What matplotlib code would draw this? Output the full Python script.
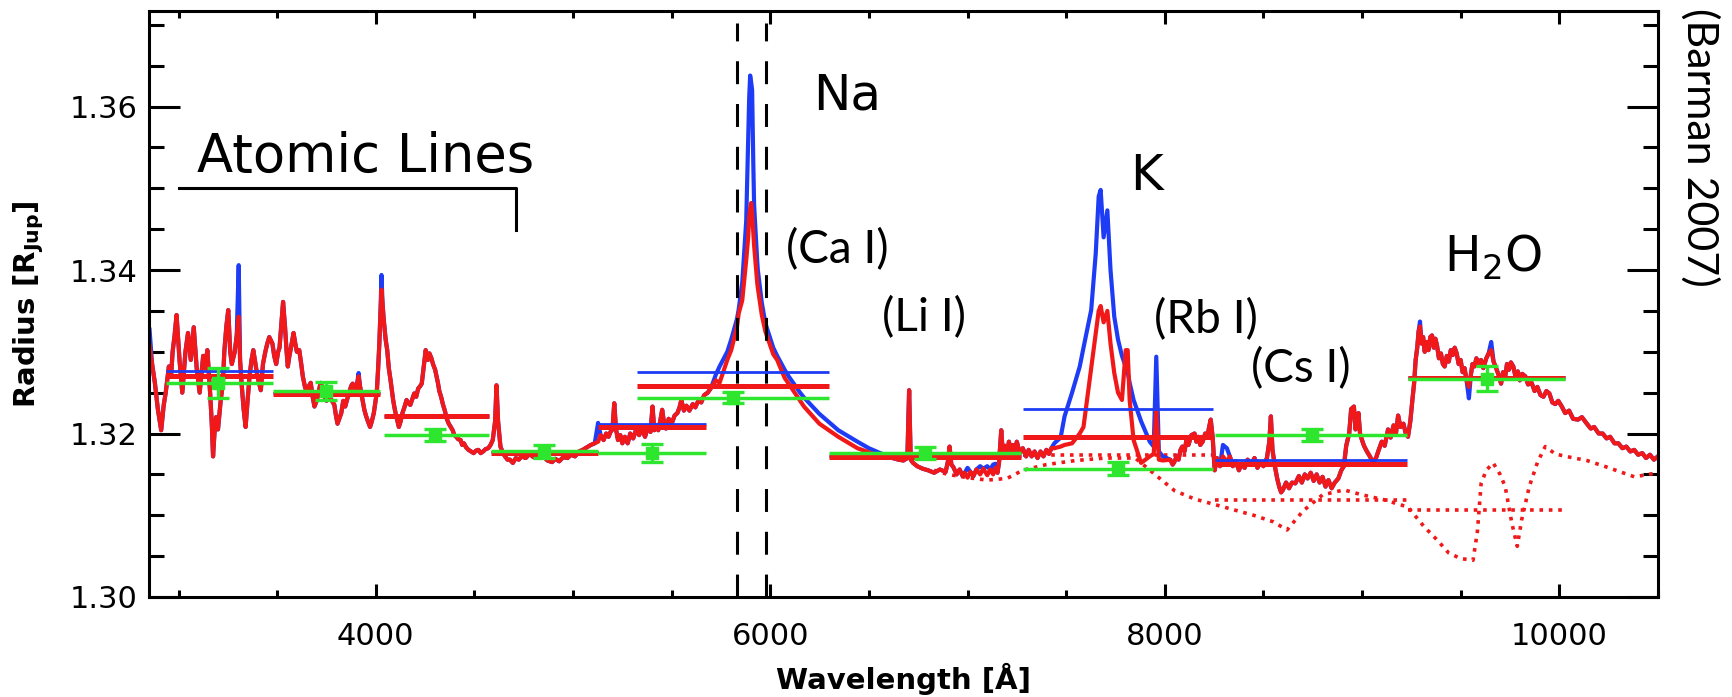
import matplotlib.pyplot as plt
from matplotlib.ticker import MultipleLocator

# -------------------- spectrum shared by both models (outside Na and K) --------------------
# blue / near-UV part, 2850-4620 A
uv_wl = [2853, 2866, 2880, 2895, 2912, 2925, 2935, 2951, 2962, 2970, 2980, 2990, 3005, 3019,
         3035, 3048, 3062, 3077, 3092, 3107, 3125, 3135, 3146, 3160, 3168, 3175, 3182, 3190,
         3200, 3214, 3225, 3232, 3242, 3252, 3262, 3270, 3285, 3295, 3305, 3312, 3320, 3330,
         3340, 3350, 3360, 3370, 3379, 3390, 3400, 3410, 3417, 3428, 3440, 3450, 3460, 3476,
         3485, 3495, 3505, 3512, 3520, 3530, 3540, 3548, 3554, 3562, 3570, 3583, 3592, 3600,
         3612, 3622, 3630, 3640, 3650, 3660, 3670, 3680, 3689, 3700, 3710, 3720, 3728, 3740,
         3750, 3758, 3767, 3778, 3790, 3798, 3806, 3815, 3825, 3835, 3845, 3855, 3865, 3875,
         3883, 3892, 3900, 3906, 3913, 3920, 3930, 3942, 3950, 3960, 3971, 3980, 3990, 4005,
         4012, 4018, 4024, 4029, 4034, 4040, 4050, 4058, 4066, 4075, 4088, 4096, 4105, 4117,
         4126, 4135, 4145, 4156, 4165, 4175, 4185, 4195, 4205, 4215, 4225, 4233, 4240, 4245,
         4253, 4260, 4265, 4272, 4282, 4290, 4301, 4308, 4315, 4322, 4331, 4340, 4350, 4360,
         4370, 4380, 4390, 4398, 4408, 4418, 4430, 4438, 4447, 4458, 4470, 4483, 4496, 4508,
         4520, 4532, 4544, 4557, 4570, 4582, 4593, 4605, 4612, 4620]
uv_r = [1.3308, 1.3285, 1.3262, 1.3230, 1.3204, 1.3235, 1.3250, 1.3282, 1.3270, 1.3300, 1.3320,
        1.3345, 1.3290, 1.3250, 1.3300, 1.3323, 1.3290, 1.3330, 1.3280, 1.3250, 1.3295, 1.3280,
        1.3302, 1.3250, 1.3215, 1.3172, 1.3200, 1.3220, 1.3205, 1.3241, 1.3262, 1.3300, 1.3330,
        1.3351, 1.3300, 1.3285, 1.3300, 1.3320, 1.3343, 1.3290, 1.3260, 1.3230, 1.3208, 1.3240,
        1.3270, 1.3290, 1.3302, 1.3285, 1.3270, 1.3260, 1.3253, 1.3285, 1.3300, 1.3310, 1.3318,
        1.3310, 1.3295, 1.3285, 1.3300, 1.3305, 1.3330, 1.3361, 1.3330, 1.3300, 1.3282, 1.3295,
        1.3305, 1.3323, 1.3310, 1.3300, 1.3302, 1.3285, 1.3270, 1.3258, 1.3250, 1.3258, 1.3262,
        1.3245, 1.3233, 1.3240, 1.3250, 1.3262, 1.3257, 1.3245, 1.3240, 1.3250, 1.3245, 1.3240,
        1.3235, 1.3222, 1.3212, 1.3218, 1.3225, 1.3240, 1.3233, 1.3242, 1.3250, 1.3258, 1.3261,
        1.3255, 1.3250, 1.3262, 1.3270, 1.3258, 1.3245, 1.3229, 1.3222, 1.3215, 1.3208, 1.3215,
        1.3225, 1.3250, 1.3280, 1.3310, 1.3350, 1.3376, 1.3360, 1.3340, 1.3315, 1.3302, 1.3280,
        1.3265, 1.3241, 1.3230, 1.3220, 1.3208, 1.3215, 1.3225, 1.3232, 1.3241, 1.3237, 1.3235,
        1.3242, 1.3249, 1.3245, 1.3255, 1.3258, 1.3261, 1.3275, 1.3285, 1.3302, 1.3295, 1.3290,
        1.3298, 1.3292, 1.3285, 1.3278, 1.3270, 1.3262, 1.3252, 1.3245, 1.3236, 1.3228, 1.3218,
        1.3212, 1.3208, 1.3204, 1.3198, 1.3196, 1.3193, 1.3192, 1.3186, 1.3188, 1.3183, 1.3180,
        1.3178, 1.3176, 1.3179, 1.3180, 1.3176, 1.3178, 1.3181, 1.3182, 1.3186, 1.3192, 1.3215,
        1.3259, 1.3215]

# visible, 4630-5700 A
vis_wl = [4632, 4645, 4655, 4668, 4680, 4695, 4710, 4725, 4739, 4760, 4780, 4800, 4816, 4835,
          4850, 4870, 4894, 4910, 4930, 4950, 4972, 4990, 5010, 5030, 5049, 5070, 5090, 5110,
          5127, 5140, 5155, 5168, 5180, 5190, 5200, 5209, 5218, 5228, 5240, 5250, 5263, 5277,
          5290, 5305, 5320, 5335, 5350, 5365, 5380, 5393, 5403, 5412, 5422, 5432, 5442, 5452,
          5462, 5471, 5485, 5500, 5515, 5529, 5540, 5549, 5562, 5575, 5590, 5607, 5620, 5635,
          5650, 5665, 5683, 5700]
vis_r = [1.3184, 1.3176, 1.3172, 1.3168, 1.3168, 1.3164, 1.3170, 1.3168, 1.3172, 1.3170, 1.3175,
         1.3171, 1.3174, 1.3170, 1.3172, 1.3167, 1.3165, 1.3169, 1.3166, 1.3171, 1.3170, 1.3174,
         1.3172, 1.3178, 1.3180, 1.3183, 1.3186, 1.3188, 1.3190, 1.3198, 1.3192, 1.3200, 1.3196,
         1.3202, 1.3205, 1.3237, 1.3205, 1.3192, 1.3198, 1.3188, 1.3196, 1.3188, 1.3200, 1.3194,
         1.3205, 1.3198, 1.3206, 1.3196, 1.3208, 1.3202, 1.3233, 1.3204, 1.3210, 1.3204, 1.3215,
         1.3229, 1.3212, 1.3206, 1.3218, 1.3212, 1.3222, 1.3225, 1.3232, 1.3241, 1.3228, 1.3234,
         1.3228, 1.3236, 1.3232, 1.3240, 1.3238, 1.3247, 1.3250, 1.3256]

# red, 6620-7425 A
red_seg_wl = [6620, 6650, 6675, 6695, 6704, 6712, 6724, 6745, 6772, 6800, 6831, 6860, 6889,
              6900, 6909, 6918, 6928, 6945, 6960, 6975, 6986, 7000, 7015, 7030, 7045, 7064,
              7080, 7100, 7115, 7130, 7142, 7152, 7160, 7171, 7180, 7190, 7200, 7210, 7220,
              7230, 7239, 7250, 7265, 7280, 7297, 7310, 7325, 7340, 7355, 7370, 7385, 7400,
              7413, 7425]
red_seg_r = [1.3170, 1.3168, 1.3167, 1.3170, 1.3253, 1.3168, 1.3164, 1.3160, 1.3157, 1.3155,
             1.3152, 1.3156, 1.3153, 1.3165, 1.3184, 1.3162, 1.3159, 1.3150, 1.3156, 1.3148,
             1.3152, 1.3146, 1.3153, 1.3148, 1.3156, 1.3150, 1.3157, 1.3149, 1.3156, 1.3150,
             1.3158, 1.3152, 1.3165, 1.3204, 1.3172, 1.3185, 1.3175, 1.3190, 1.3178, 1.3186,
             1.3178, 1.3190, 1.3176, 1.3182, 1.3172, 1.3180, 1.3172, 1.3178, 1.3170, 1.3178,
             1.3172, 1.3180, 1.3175, 1.3182]

# near-IR, 8028-9233 A
nir_wl = [8028, 8040, 8048, 8060, 8070, 8080, 8089, 8100, 8110, 8120, 8135, 8151, 8160, 8170,
          8180, 8192, 8205, 8215, 8225, 8233, 8243, 8253, 8265, 8280, 8295, 8315, 8330, 8345,
          8360, 8376, 8390, 8405, 8420, 8437, 8455, 8470, 8485, 8500, 8518, 8530, 8538, 8546,
          8559, 8570, 8580, 8590, 8599, 8615, 8630, 8645, 8662, 8680, 8695, 8710, 8724, 8740,
          8755, 8770, 8785, 8800, 8815, 8830, 8846, 8862, 8880, 8895, 8908, 8920, 8935, 8945,
          8959, 8967, 8975, 8982, 8990, 9000, 9010, 9025, 9040, 9055, 9071, 9085, 9100, 9115,
          9132, 9145, 9160, 9172, 9183, 9195, 9210, 9222, 9233]
nir_r = [1.3168, 1.3162, 1.3165, 1.3172, 1.3168, 1.3180, 1.3184, 1.3178, 1.3192, 1.3186, 1.3198,
         1.3200, 1.3190, 1.3196, 1.3186, 1.3190, 1.3200, 1.3195, 1.3208, 1.3217, 1.3195, 1.3155,
         1.3170, 1.3160, 1.3172, 1.3165, 1.3172, 1.3160, 1.3166, 1.3155, 1.3163, 1.3158, 1.3168,
         1.3162, 1.3170, 1.3158, 1.3165, 1.3160, 1.3170, 1.3190, 1.3221, 1.3180, 1.3159, 1.3145,
         1.3135, 1.3128, 1.3131, 1.3140, 1.3133, 1.3140, 1.3139, 1.3148, 1.3140, 1.3150, 1.3145,
         1.3152, 1.3142, 1.3150, 1.3140, 1.3147, 1.3135, 1.3143, 1.3133, 1.3140, 1.3145, 1.3155,
         1.3160, 1.3185, 1.3200, 1.3230, 1.3233, 1.3205, 1.3215, 1.3225, 1.3200, 1.3192, 1.3185,
         1.3178, 1.3172, 1.3165, 1.3170, 1.3180, 1.3190, 1.3185, 1.3205, 1.3195, 1.3210, 1.3200,
         1.3222, 1.3208, 1.3212, 1.3200, 1.3196]

# water band, 9245-10500 A
h2o_wl = [9245, 9255, 9264, 9272, 9280, 9287, 9294, 9302, 9310, 9318, 9326, 9337, 9346, 9355,
          9364, 9372, 9380, 9390, 9400, 9410, 9419, 9430, 9440, 9450, 9460, 9470, 9480, 9490,
          9500, 9510, 9520, 9530, 9542, 9552, 9560, 9570, 9580, 9590, 9603, 9615, 9630, 9642,
          9655, 9667, 9680, 9692, 9705, 9715, 9725, 9735, 9745, 9755, 9767, 9778, 9790, 9800,
          9812, 9828, 9842, 9860, 9875, 9889, 9905, 9920, 9935, 9950, 9965, 9980, 9995, 10013,
          10030, 10050, 10070, 10095, 10115, 10140, 10160, 10177, 10200, 10220, 10240, 10258,
          10280, 10300, 10320, 10340, 10360, 10380, 10400, 10421, 10440, 10460, 10480, 10500]
h2o_r = [1.3215, 1.3240, 1.3261, 1.3290, 1.3305, 1.3325, 1.3331, 1.3310, 1.3318, 1.3300, 1.3312,
         1.3302, 1.3318, 1.3320, 1.3305, 1.3316, 1.3308, 1.3292, 1.3298, 1.3285, 1.3282, 1.3295,
         1.3288, 1.3302, 1.3296, 1.3305, 1.3298, 1.3285, 1.3290, 1.3275, 1.3280, 1.3265, 1.3257,
         1.3272, 1.3285, 1.3282, 1.3292, 1.3285, 1.3290, 1.3280, 1.3292, 1.3298, 1.3302, 1.3288,
         1.3280, 1.3272, 1.3261, 1.3275, 1.3268, 1.3285, 1.3278, 1.3287, 1.3282, 1.3270, 1.3276,
         1.3265, 1.3273, 1.3270, 1.3260, 1.3262, 1.3252, 1.3257, 1.3247, 1.3245, 1.3252, 1.3249,
         1.3238, 1.3236, 1.3240, 1.3233, 1.3225, 1.3228, 1.3218, 1.3217, 1.3220, 1.3212, 1.3206,
         1.3208, 1.3200, 1.3200, 1.3194, 1.3196, 1.3188, 1.3188, 1.3182, 1.3184, 1.3178, 1.3180,
         1.3174, 1.3176, 1.3170, 1.3174, 1.3168, 1.3172]

# Na D doublet
na_wl = [5724, 5743, 5782, 5802, 5831, 5840, 5858, 5878, 5888, 5893, 5898, 5903, 5908, 5914,
         5918, 5934, 5937, 5957, 5975, 6015, 6035, 6073, 6093, 6151, 6171, 6249, 6345, 6442,
         6500, 6558]
na_red = [1.3265, 1.3262, 1.3290, 1.3302, 1.3330, 1.3347, 1.3363, 1.3412, 1.3440, 1.3465,
          1.3475, 1.3482, 1.3470, 1.3445, 1.3430, 1.3384, 1.3378, 1.3345, 1.3325, 1.3297,
          1.3290, 1.3268, 1.3261, 1.3240, 1.3233, 1.3212, 1.3196, 1.3182, 1.3177, 1.3172]
na_blue = [1.3272, 1.3282, 1.3300, 1.3315, 1.3340, 1.3352, 1.3385, 1.3460, 1.3560, 1.3610,
           1.3638, 1.3630, 1.3620, 1.3530, 1.3480, 1.3410, 1.3400, 1.3360, 1.3335, 1.3305,
           1.3295, 1.3278, 1.3270, 1.3250, 1.3244, 1.3224, 1.3204, 1.3190, 1.3182, 1.3176]

# K doublet
k_wl = [7440, 7472, 7492, 7530, 7569, 7588, 7627, 7650, 7665, 7675, 7690, 7709, 7725, 7744,
        7763, 7783, 7802, 7812, 7822, 7842, 7880, 7924, 7944, 7957, 7970, 7990]
k_red = [1.3182, 1.3184, 1.3186, 1.3188, 1.3200, 1.3208, 1.3280, 1.3323, 1.3350, 1.3356,
         1.3336, 1.3350, 1.3310, 1.3274, 1.3250, 1.3241, 1.3302, 1.3302, 1.3241, 1.3192,
         1.3164, 1.3172, 1.3175, 1.3229, 1.3168, 1.3167]
k_blue = [1.3188, 1.3195, 1.3221, 1.3250, 1.3282, 1.3305, 1.3351, 1.3420, 1.3490, 1.3498,
          1.3440, 1.3473, 1.3400, 1.3343, 1.3315, 1.3295, 1.3282, 1.3275, 1.3262, 1.3241,
          1.3215, 1.3190, 1.3184, 1.3294, 1.3178, 1.3172]

# where the blue model departs from the red one elsewhere
blue_wl = [2853, 3305, 3913, 4029, 5127, 7000, 7064, 7100, 7130, 7142, 8295, 8315, 9294, 9542,
           9655]
blue_r = [1.3327, 1.3406, 1.3274, 1.3394, 1.3213, 1.3158, 1.3160, 1.3160, 1.3162, 1.3163,
          1.3186, 1.3182, 1.3337, 1.3243, 1.3312]

# dotted comparison model
dot_wl = [6830, 6900, 7000, 7100, 7200, 7280, 7400, 7550, 7700, 7850, 7950, 8050, 8150, 8300,
          8450, 8550, 8620, 8700, 8800, 8909, 9000, 9111, 9233, 9315, 9380, 9439, 9500, 9563,
          9585, 9604, 9630, 9665, 9700, 9726, 9760, 9787, 9810, 9848, 9890, 9929, 9980, 10033,
          10140, 10240, 10381, 10500]
dot_r = [1.3155, 1.3150, 1.3146, 1.3143, 1.3145, 1.3155, 1.3162, 1.3167, 1.3170, 1.3170,
         1.3150, 1.3130, 1.3120, 1.3110, 1.3100, 1.3092, 1.3082, 1.3105, 1.3125, 1.3131,
         1.3125, 1.3119, 1.3110, 1.3086, 1.3070, 1.3054, 1.3047, 1.3045, 1.3080, 1.3139,
         1.3155, 1.3164, 1.3150, 1.3135, 1.3090, 1.3062, 1.3095, 1.3135, 1.3165, 1.3184,
         1.3175, 1.3172, 1.3167, 1.3159, 1.3147, 1.3152]

# binned values
bin_lo = [2935, 3480, 4040, 4585, 5125, 5325, 6300, 7280, 8255, 9235]
bin_hi = [3480, 4020, 4575, 5125, 5675, 6300, 7270, 8245, 9230, 10030]
bin_blue = [1.3276, 1.3249, 1.3222, 1.3177, 1.3212, 1.3275, 1.3172, 1.3230, 1.3168, 1.3269]
bin_red = [1.3270, 1.3248, 1.3221, 1.3176, 1.3208, 1.3258, 1.3171, 1.3196, 1.3163, 1.3268]
bin_green = [1.3262, 1.3252, 1.3198, 1.3178, 1.3176, 1.3244, 1.3176, 1.3157, 1.3198, 1.3267]
green_wl = [3200, 3746, 4301, 4854, 5399, 5811, 6782, 7762, 8745, 9634]
green_err = [0.0018, 0.0011, 0.0007, 0.0008, 0.0011, 0.0007, 0.0007, 0.0008, 0.0007, 0.0015]

dot_bin_lo = [7280, 8255, 9235]
dot_bin_hi = [8245, 9230, 10030]
dot_bin_r = [1.3174, 1.3119, 1.3106]

na_dash_wl = [5830, 5980]

BLUE = '#1e3cf5'
RED = '#f01818'
GREEN = '#2ee62e'

segments = [(uv_wl, uv_r), (vis_wl, vis_r), (red_seg_wl, red_seg_r), (nir_wl, nir_r),
            (h2o_wl, h2o_r)]
for w, r in segments:
    assert len(w) == len(r)


def build(*pairs):
    pts = {}
    for wl, r in segments + list(pairs):
        pts.update(zip(wl, r))
    wl = sorted(pts)
    return wl, [pts[w] for w in wl]


red_wl, red_r = build((na_wl, na_red), (k_wl, k_red))
blu_wl, blu_r = build((na_wl, na_blue), (k_wl, k_blue), (blue_wl, blue_r))

# -------------------- figure --------------------
plt.rcParams['font.family'] = 'DejaVu Sans'
fig = plt.figure(figsize=(17.32, 6.97), dpi=100)
ax = fig.add_axes([0.0860, 0.1435, 0.8712, 0.8408])

ax.plot(dot_wl, dot_r, color=RED, lw=2.6, ls=(0, (1, 1.6)))
ax.hlines(dot_bin_r, dot_bin_lo, dot_bin_hi, colors=RED, lw=2.6, linestyles=[(0, (1, 1.6))])

ax.plot(blu_wl, blu_r, color=BLUE, lw=3.0, solid_joinstyle='round')
ax.plot(red_wl, red_r, color=RED, lw=3.0, solid_joinstyle='round')

for w in na_dash_wl:
    ax.plot([w, w], [1.30, 1.3702], color='black', lw=2.2, dashes=(7.5, 6.5))

ax.hlines(bin_blue, bin_lo, bin_hi, colors=BLUE, lw=2.0)
ax.hlines(bin_red, bin_lo, bin_hi, colors=RED, lw=3.6)
ax.hlines(bin_green, bin_lo, bin_hi, colors=GREEN, lw=2.5)
ax.errorbar(green_wl, bin_green, yerr=green_err, fmt='s', color=GREEN, ms=9,
            elinewidth=2.4, capsize=8, capthick=2.4)

# Atomic lines bracket
ax.plot([3000, 4710, 4710], [1.3500, 1.3500, 1.3449], color='black', lw=2.2)
ax.text(3096, 1.3520, 'Atomic Lines', fontsize=38, va='baseline', ha='left')
ax.text(6218, 1.3596, 'Na', fontsize=36, va='baseline', ha='left')
ax.text(7822, 1.3498, 'K', fontsize=36, va='baseline', ha='left')
ax.text(9416, 1.3398, 'H$_2$O', fontsize=35, va='baseline', ha='left')

calib = dict(fontsize=33, va='baseline', ha='left', family='Lato')
ax.text(6081, 1.3409, '(Ca I)', **calib)
ax.text(6568, 1.3325, '(Li I)', **calib)
ax.text(7944, 1.3323, '(Rb I)', **calib)
ax.text(8436, 1.3263, '(Cs I)', **calib)

fig.text(0.9815, 0.789, '(Barman 2007)', rotation=-90, ha='center', va='center',
         fontsize=31, family='Lato')

# -------------------- axes --------------------
ax.set_xlim(2850, 10500)
ax.set_ylim(1.30, 1.3717)
ax.xaxis.set_major_locator(MultipleLocator(2000))
ax.xaxis.set_minor_locator(MultipleLocator(500))
ax.yaxis.set_major_locator(MultipleLocator(0.02))
ax.yaxis.set_minor_locator(MultipleLocator(0.005))
ax.yaxis.set_major_formatter(plt.FormatStrFormatter('%.2f'))

for s in ax.spines.values():
    s.set_linewidth(2.2)
ax.tick_params(which='both', direction='in', top=True, right=True, width=2.2, labelsize=22)
ax.tick_params(axis='x', which='major', length=9.4, pad=18)
ax.tick_params(axis='x', which='minor', length=5)
ax.tick_params(axis='y', which='major', length=22.3, pad=8)
ax.tick_params(axis='y', which='minor', length=10.8)

ax.set_xlabel('Wavelength [Å]', fontsize=21, fontweight='bold')
ax.set_ylabel(r'Radius [R$_{\mathbf{Jup}}$]', fontsize=21, fontweight='bold')
ax.xaxis.set_label_coords(0.5, -0.112)
ax.yaxis.set_label_coords(-0.068, 0.5)

fig.savefig('out.png', dpi=100)
